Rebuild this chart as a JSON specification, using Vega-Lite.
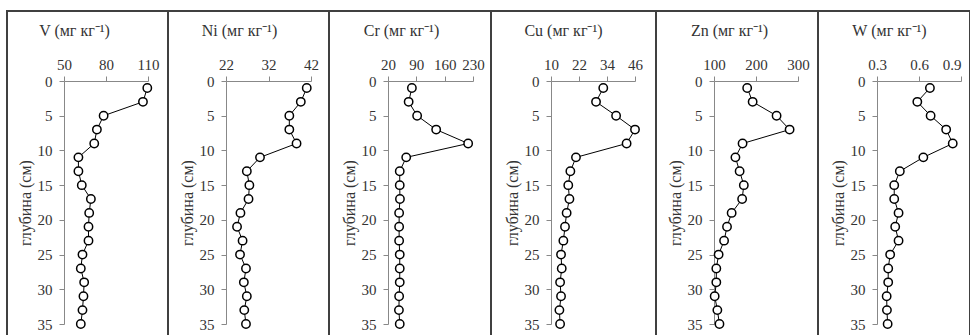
{
  "$schema": "https://vega.github.io/schema/vega-lite/v6.json",
  "padding": {"left": 6, "top": 10, "right": 0, "bottom": 0},
  "background": "white",
  "spacing": 0,
  "bounds": "flush",
  "config": {
    "font": "Liberation Serif, Times New Roman, serif",
    "axis": {"labelFont": "Liberation Serif, Times New Roman, serif", "labelFontSize": 15, "labelColor": "#333333", "titleFont": "Liberation Serif, Times New Roman, serif", "titleFontSize": 16, "titleFontWeight": "normal", "titleColor": "#333333", "domainColor": "#888888", "tickColor": "#888888", "tickSize": 5, "grid": false, "labelFlush": false, "labelOverlap": false, "labelBound": false},
    "axisX": {"labelPadding": 4},
    "axisY": {"labelPadding": 7},
    "view": {"stroke": "#404040", "strokeWidth": 2},
    "concat": {"spacing": 0}
  },
  "data": {"values": [
    {"depth": 1, "V": 109.5, "Ni": 41.0, "Cr": 79, "Cu": 32.4, "Zn": 179, "W": 0.678},
    {"depth": 3, "V": 106.4, "Ni": 39.6, "Cr": 71, "Cu": 29.3, "Zn": 192, "W": 0.588},
    {"depth": 5, "V": 78.3, "Ni": 36.9, "Cr": 92, "Cu": 37.9, "Zn": 249, "W": 0.683},
    {"depth": 7, "V": 73.5, "Ni": 36.9, "Cr": 139, "Cu": 46.0, "Zn": 280, "W": 0.794},
    {"depth": 9, "V": 71.6, "Ni": 38.6, "Cr": 218, "Cu": 42.4, "Zn": 168, "W": 0.841},
    {"depth": 11, "V": 60.3, "Ni": 30.0, "Cr": 65, "Cu": 20.7, "Zn": 151, "W": 0.631},
    {"depth": 13, "V": 60.3, "Ni": 26.9, "Cr": 49, "Cu": 18.3, "Zn": 161, "W": 0.463},
    {"depth": 15, "V": 62.7, "Ni": 27.5, "Cr": 49, "Cu": 17.4, "Zn": 171, "W": 0.423},
    {"depth": 17, "V": 69.2, "Ni": 27.3, "Cr": 49.5, "Cu": 17.9, "Zn": 167, "W": 0.423},
    {"depth": 19, "V": 68.0, "Ni": 25.4, "Cr": 47.5, "Cu": 16.7, "Zn": 142, "W": 0.454},
    {"depth": 21, "V": 67.5, "Ni": 24.6, "Cr": 47.5, "Cu": 16.0, "Zn": 131, "W": 0.430},
    {"depth": 23, "V": 67.5, "Ni": 25.9, "Cr": 47.5, "Cu": 15.3, "Zn": 124, "W": 0.454},
    {"depth": 25, "V": 63.2, "Ni": 25.3, "Cr": 49, "Cu": 14.3, "Zn": 111, "W": 0.394},
    {"depth": 27, "V": 62.0, "Ni": 26.7, "Cr": 49, "Cu": 14.6, "Zn": 105.5, "W": 0.380},
    {"depth": 29, "V": 64.4, "Ni": 26.2, "Cr": 49, "Cu": 13.9, "Zn": 105.5, "W": 0.380},
    {"depth": 31, "V": 63.9, "Ni": 26.9, "Cr": 47.5, "Cu": 14.3, "Zn": 101.6, "W": 0.369},
    {"depth": 33, "V": 63.2, "Ni": 26.3, "Cr": 47, "Cu": 13.6, "Zn": 108, "W": 0.371},
    {"depth": 35, "V": 62.0, "Ni": 26.7, "Cr": 49, "Cu": 13.9, "Zn": 113, "W": 0.376}
  ]},
  "hconcat": [
    {
      "width": 161, "height": 325,
      "encoding": {
        "y": {"field": "depth", "type": "quantitative", "scale": {"domain": [0, 35], "range": [70, 313], "nice": false, "zero": false},
          "axis": {"orient": "left", "offset": -57, "values": [0, 5, 10, 15, 20, 25, 30, 35], "title": "глубина (см)", "titleX": -39, "titleBaseline": "middle", "titleAlign": "center"}},
        "x": {"field": "V", "type": "quantitative", "scale": {"domain": [50, 110], "range": [57, 141], "nice": false, "zero": false},
          "axis": {"orient": "top", "offset": -70, "values": [50, 80, 110], "title": "V (мг кг⁻¹)", "titleX": 67, "titleY": -46, "titleBaseline": "alphabetic", "titleAlign": "center"}},
        "order": {"field": "depth", "type": "quantitative"}
      },
      "layer": [
        {"mark": {"type": "line", "color": "black", "strokeWidth": 1}},
        {"mark": {"type": "point", "shape": "circle", "filled": true, "fill": "white", "stroke": "black", "strokeWidth": 1.5, "size": 70, "opacity": 1}}
      ]
    },
    {
      "width": 161, "height": 325,
      "encoding": {
        "y": {"field": "depth", "type": "quantitative", "scale": {"domain": [0, 35], "range": [70, 313], "nice": false, "zero": false},
          "axis": {"orient": "left", "offset": -58, "values": [0, 5, 10, 15, 20, 25, 30, 35], "title": "глубина (см)", "titleX": -39, "titleBaseline": "middle", "titleAlign": "center"}},
        "x": {"field": "Ni", "type": "quantitative", "scale": {"domain": [22, 42], "range": [58, 143], "nice": false, "zero": false},
          "axis": {"orient": "top", "offset": -70, "values": [22, 32, 42], "title": "Ni (мг кг⁻¹)", "titleX": 71, "titleY": -46, "titleBaseline": "alphabetic", "titleAlign": "center"}},
        "order": {"field": "depth", "type": "quantitative"}
      },
      "layer": [
        {"mark": {"type": "line", "color": "black", "strokeWidth": 1}},
        {"mark": {"type": "point", "shape": "circle", "filled": true, "fill": "white", "stroke": "black", "strokeWidth": 1.5, "size": 70, "opacity": 1}}
      ]
    },
    {
      "width": 162, "height": 325,
      "encoding": {
        "y": {"field": "depth", "type": "quantitative", "scale": {"domain": [0, 35], "range": [70, 313], "nice": false, "zero": false},
          "axis": {"orient": "left", "offset": -59, "values": [0, 5, 10, 15, 20, 25, 30, 35], "title": "глубина (см)", "titleX": -39, "titleBaseline": "middle", "titleAlign": "center"}},
        "x": {"field": "Cr", "type": "quantitative", "scale": {"domain": [20, 230], "range": [59, 144], "nice": false, "zero": false},
          "axis": {"orient": "top", "offset": -70, "values": [20, 90, 160, 230], "title": "Cr (мг кг⁻¹)", "titleX": 72, "titleY": -46, "titleBaseline": "alphabetic", "titleAlign": "center"}},
        "order": {"field": "depth", "type": "quantitative"}
      },
      "layer": [
        {"mark": {"type": "line", "color": "black", "strokeWidth": 1}},
        {"mark": {"type": "point", "shape": "circle", "filled": true, "fill": "white", "stroke": "black", "strokeWidth": 1.5, "size": 70, "opacity": 1}}
      ]
    },
    {
      "width": 165, "height": 325,
      "encoding": {
        "y": {"field": "depth", "type": "quantitative", "scale": {"domain": [0, 35], "range": [70, 313], "nice": false, "zero": false},
          "axis": {"orient": "left", "offset": -60, "values": [0, 5, 10, 15, 20, 25, 30, 35], "title": "глубина (см)", "titleX": -39, "titleBaseline": "middle", "titleAlign": "center"}},
        "x": {"field": "Cu", "type": "quantitative", "scale": {"domain": [10, 46], "range": [60, 144], "nice": false, "zero": false},
          "axis": {"orient": "top", "offset": -70, "values": [10, 22, 34, 46], "title": "Cu (мг кг⁻¹)", "titleX": 72, "titleY": -46, "titleBaseline": "alphabetic", "titleAlign": "center"}},
        "order": {"field": "depth", "type": "quantitative"}
      },
      "layer": [
        {"mark": {"type": "line", "color": "black", "strokeWidth": 1}},
        {"mark": {"type": "point", "shape": "circle", "filled": true, "fill": "white", "stroke": "black", "strokeWidth": 1.5, "size": 70, "opacity": 1}}
      ]
    },
    {
      "width": 162, "height": 325,
      "encoding": {
        "y": {"field": "depth", "type": "quantitative", "scale": {"domain": [0, 35], "range": [70, 313], "nice": false, "zero": false},
          "axis": {"orient": "left", "offset": -58, "values": [0, 5, 10, 15, 20, 25, 30, 35], "title": "глубина (см)", "titleX": -39, "titleBaseline": "middle", "titleAlign": "center"}},
        "x": {"field": "Zn", "type": "quantitative", "scale": {"domain": [100, 300], "range": [58, 142], "nice": false, "zero": false},
          "axis": {"orient": "top", "offset": -70, "values": [100, 200, 300], "title": "Zn (мг кг⁻¹)", "titleX": 73, "titleY": -46, "titleBaseline": "alphabetic", "titleAlign": "center"}},
        "order": {"field": "depth", "type": "quantitative"}
      },
      "layer": [
        {"mark": {"type": "line", "color": "black", "strokeWidth": 1}},
        {"mark": {"type": "point", "shape": "circle", "filled": true, "fill": "white", "stroke": "black", "strokeWidth": 1.5, "size": 70, "opacity": 1}}
      ]
    },
    {
      "width": 152, "height": 325,
      "encoding": {
        "y": {"field": "depth", "type": "quantitative", "scale": {"domain": [0, 35], "range": [70, 313], "nice": false, "zero": false},
          "axis": {"orient": "left", "offset": -59, "values": [0, 5, 10, 15, 20, 25, 30, 35], "title": "глубина (см)", "titleX": -39, "titleBaseline": "middle", "titleAlign": "center"}},
        "x": {"field": "W", "type": "quantitative", "scale": {"domain": [0.3, 0.9], "range": [59, 143], "nice": false, "zero": false},
          "axis": {"orient": "top", "offset": -70, "values": [0.3, 0.6, 0.9], "format": ".1f", "title": "W (мг кг⁻¹)", "titleX": 71, "titleY": -46, "titleBaseline": "alphabetic", "titleAlign": "center",
            "labelAlign": {"condition": {"test": "datum.value > 0.85", "value": "right"}, "value": "center"}}},
        "order": {"field": "depth", "type": "quantitative"}
      },
      "layer": [
        {"mark": {"type": "line", "color": "black", "strokeWidth": 1}},
        {"mark": {"type": "point", "shape": "circle", "filled": true, "fill": "white", "stroke": "black", "strokeWidth": 1.5, "size": 70, "opacity": 1}}
      ]
    }
  ]
}
